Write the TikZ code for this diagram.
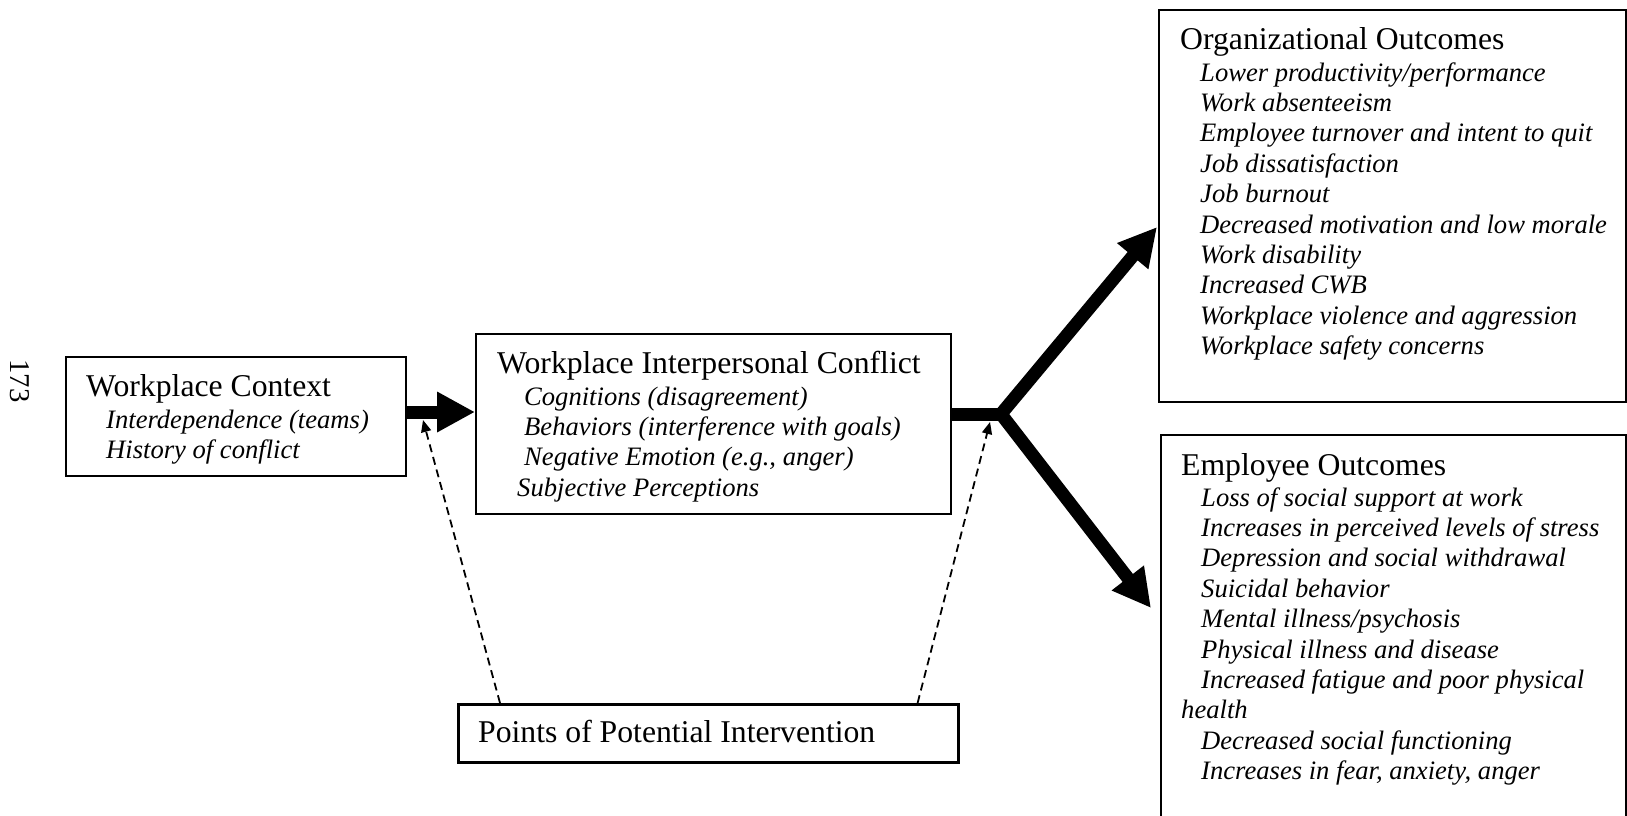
\documentclass[tikz,border=0pt]{standalone}
\usepackage{fontspec}
\setmainfont{Liberation Serif}
\usetikzlibrary{arrows.meta}
\begin{document}
\begin{tikzpicture}[x=1pt,y=-1pt,
  box/.style={draw, line width=2pt, rectangle, inner sep=0pt, anchor=north west},
  head/.style={anchor=base west, inner sep=0pt, font=\fontsize{31.7}{36}\selectfont},
  item/.style={anchor=base west, inner sep=0pt, font=\fontsize{26.6}{30}\selectfont\itshape},
  flow/.style={line width=13pt, -{Triangle[length=38pt,width=38pt]}},
  fork/.style={line width=13pt, line join=miter,
    {Triangle[length=38pt,width=38pt]}-{Triangle[length=38pt,width=38pt]}},
  intv/.style={line width=1.8pt, dash pattern=on 8pt off 5pt,
    -{Triangle[length=12pt,width=10pt]}}
]
\useasboundingbox (0,0) rectangle (1627,815);

% page number
\node[rotate=-90, inner sep=0pt, font=\fontsize{28.7}{32}\selectfont] (pg) at (20,381) {173};

% Workplace Context
\node[box, minimum width=340pt, minimum height=119pt] (wc) at (65,356) {};
\node[head] (wch) at (86,396) {Workplace Context};
\node[item] (wc1) at (106,428) {Interdependence (teams)};
\node[item] (wc2) at (106,458.4) {History of conflict};

% Workplace Interpersonal Conflict
\node[box, minimum width=475pt, minimum height=180pt] (wic) at (475,333) {};
\node[head] (wich) at (497,373) {Workplace Interpersonal Conflict};
\node[item] (wic1) at (524,405) {Cognitions (disagreement)};
\node[item] (wic2) at (524,435.4) {Behaviors (interference with goals)};
\node[item] (wic3) at (524,465.8) {Negative Emotion (e.g., anger)};
\node[item] (wic4) at (517,496.2) {Subjective Perceptions};

% Organizational Outcomes
\node[box, minimum width=467pt, minimum height=392pt] (org) at (1158,9) {};
\node[head] (orgh) at (1180,49) {Organizational Outcomes};
\foreach \t [count=\i from 0] in {%
  Lower productivity/performance,
  Work absenteeism,
  Employee turnover and intent to quit,
  Job dissatisfaction,
  Job burnout,
  Decreased motivation and low morale,
  Work disability,
  Increased CWB,
  Workplace violence and aggression,
  Workplace safety concerns}
  \node[item] (org\i) at (1200,81+30.4*\i) {\t};

% Employee Outcomes
\node[box, minimum width=465pt, minimum height=400pt] (emp) at (1160,434) {};
\node[head] (emph) at (1181,475) {Employee Outcomes};
\foreach \t [count=\i from 0] in {%
  Loss of social support at work,
  Increases in perceived levels of stress,
  Depression and social withdrawal,
  Suicidal behavior,
  Mental illness/psychosis,
  Physical illness and disease,
  Increased fatigue and poor physical}
  \node[item] (emp\i) at (1201,506+30.4*\i) {\t};
\node[item] (emp7) at (1181,718.8) {health};
\node[item] (emp8) at (1201,749.2) {Decreased social functioning};
\node[item] (emp9) at (1201,779.6) {Increases in fear, anxiety, anger};

% Points of Potential Intervention
\node[box, line width=2.6pt, minimum width=500pt, minimum height=58pt] (pts) at (457,703) {};
\node[head] (ptsh) at (478,742) {Points of Potential Intervention};

% connectors
\coordinate (J) at (1001,414);
\coordinate (orgin) at (1157,227);
\coordinate (empin) at (1151,608);
\coordinate (d1) at (423,420);
\coordinate (d2) at (990,422);

\draw[flow] ([yshift=4.5pt]wc.east) -- ([yshift=12pt]wic.west);
\draw[line width=13pt] (wic.east |- J) -- (J);
\draw[fork] (orgin) -- (J) -- (empin);

\draw[intv] ([xshift=43pt]pts.north west) -- (d1);
\draw[intv] ([xshift=-42pt]pts.north east) -- (d2);
\end{tikzpicture}
\end{document}
